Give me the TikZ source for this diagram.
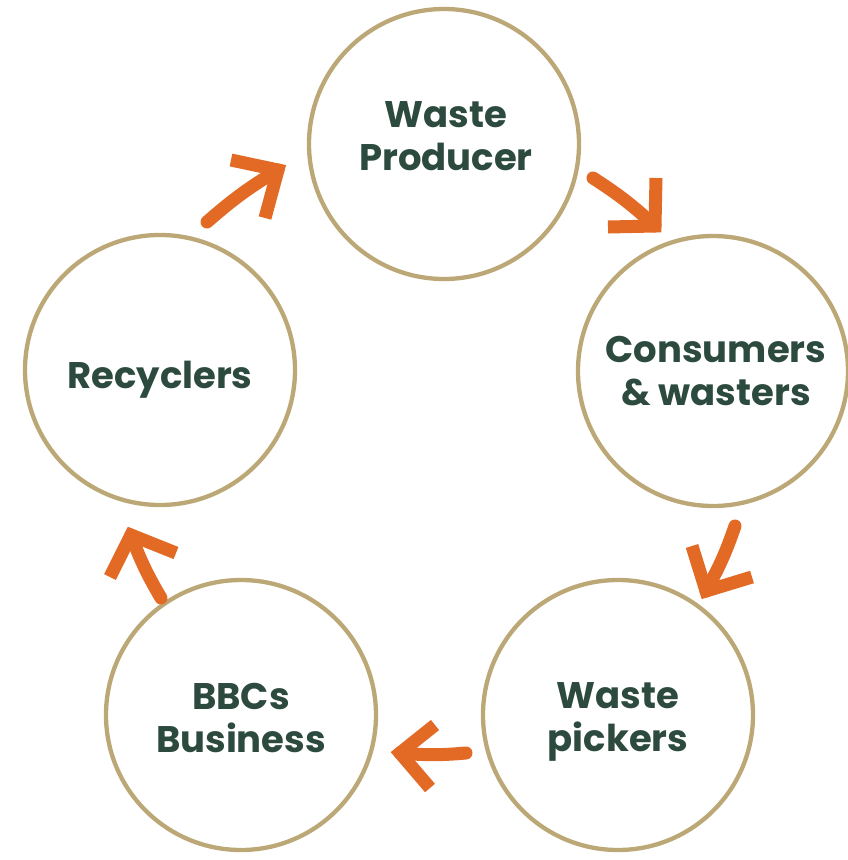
\documentclass[tikz,border=0pt]{standalone}
\usepackage{fontspec}
\setmainfont{Poppins}
\definecolor{ringtan}{HTML}{BBA876}
\definecolor{flow}{HTML}{E36A25}
\definecolor{ink}{HTML}{2D4A3F}
\tikzset{
  ring/.style={circle,draw=ringtan,line width=4.3pt,minimum size=270pt,inner sep=0pt},
  lbl/.style={font=\fontsize{37}{43}\selectfont\bfseries,text=ink,align=center,inner sep=0pt},
  shaft/.style={draw=flow,line width=13pt,line cap=round},
  head/.style={draw=flow,line width=13pt,line cap=butt,line join=miter,miter limit=10}
}
\begin{document}
\begin{tikzpicture}[x=1pt,y=-1pt]
\useasboundingbox (0,0) rectangle (847,860);
\fill[white] (0,0) rectangle (847,860);
% circles
\node[ring] (wp) at (444,144) {};
\node[ring] (cw) at (713,371) {};
\node[ring] (rc) at (160,370) {};
\node[ring] (bb) at (241,715) {};
\node[ring] (pk) at (618,715) {};
% labels
\node[lbl] (wpt) at (446,136) {Waste\\Producer};
\node[lbl] (cwt) at (716,371) {Consumers\\\& wasters};
\node[lbl] (rct) at (160,380) {Recyclers};
\node[lbl] (bbt) at (241,718) {BBCs\\Business};
\node[lbl] (pkt) at (618,722) {Waste\\pickers};
% arrow coordinates
\coordinate (a1t) at (207,222); \coordinate (a1p) at (278,170);
\coordinate (a1a) at (231,160); \coordinate (a1b) at (265,218);
\coordinate (a2t) at (593,178); \coordinate (a2p) at (655,226);
\coordinate (a2a) at (608,227); \coordinate (a2b) at (656,178);
\coordinate (a3t) at (735,526); \coordinate (a3p) at (706,591);
\coordinate (a3a) at (692,546); \coordinate (a3b) at (752,577);
\coordinate (a4t) at (466,753); \coordinate (a4p) at (400,753);
\coordinate (a4a) at (435,725); \coordinate (a4b) at (430,788);
\coordinate (a5t) at (161,598); \coordinate (a5p) at (131,535);
\coordinate (a5a) at (110,577); \coordinate (a5b) at (176,553);
% arrows
\foreach \i in {1,...,5}{
  \draw[shaft] (a\i t) to[bend left=5] (a\i p);
  \draw[head] (a\i a) -- (a\i p) -- (a\i b);
}
\end{tikzpicture}
\end{document}
